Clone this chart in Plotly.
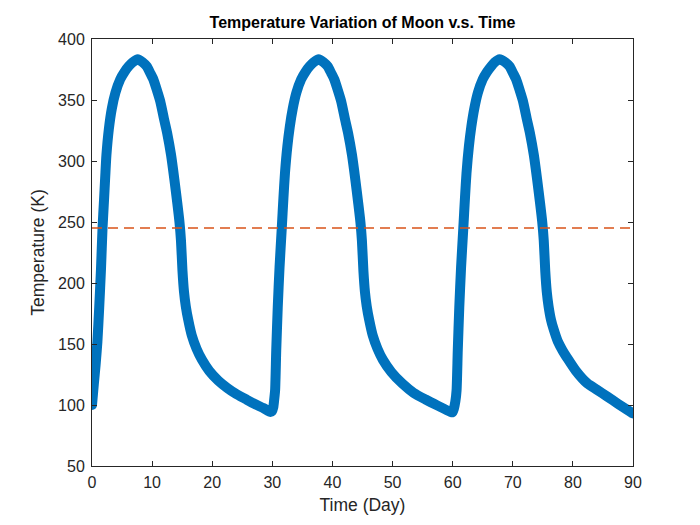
import plotly.graph_objects as go

# values, one list pair per lunar cycle
day_c1 = [0, 0.3, 0.6, 0.9, 1.2, 1.5, 1.75, 2.0, 2.2, 2.4,
          2.8, 3.3, 3.9, 4.7, 5.4, 6.1, 6.8, 7.6, 8.4, 9.1,
          9.7, 10.2, 10.8, 11.35, 12.0, 12.5, 13.15, 13.7, 14.2, 14.55,
          14.8, 15.05, 15.3, 15.6, 16.0, 16.6, 17.4, 18.3, 19.5, 21.0,
          22.5, 24.0, 25.5, 27.0, 28.5, 29.7]
temp_c1 = [100, 117, 133, 152, 180, 212, 245, 268, 287, 305,
           326, 343, 356, 367, 373, 377.6, 381, 383.5, 381, 377.6,
           372, 367, 358, 349, 334, 323, 305, 285, 265, 250,
           235, 210, 193, 181, 170, 157, 146, 137, 128, 120,
           114, 109, 105, 101, 97.5, 94.3]

day_c2 = [29.95, 30.15, 30.3, 30.46, 30.65, 30.9, 31.2, 31.57, 31.85, 32.1,
          32.5, 32.9, 33.4, 34.0, 34.8, 35.5, 36.2, 36.9, 37.7, 38.5,
          39.2, 39.8, 40.3, 40.9, 41.45, 42.1, 42.6, 43.25, 43.8, 44.3,
          44.65, 44.9, 45.15, 45.4, 45.7, 46.1, 46.7, 47.5, 48.4, 49.8,
          51.6, 53.5, 55.5, 57.5, 59.7]
temp_c2 = [95, 98, 104, 112, 145, 180, 213, 245, 270, 290,
           312, 328, 343, 356, 367, 373, 377.6, 381, 383.5, 381,
           377.6, 372, 367, 358, 349, 334, 323, 305, 285, 265,
           250, 235, 210, 193, 181, 170, 157, 146, 137, 127,
           117.7, 110, 104.5, 99.5, 94.3]

day_c3 = [59.95, 60.2, 60.45, 60.65, 60.85, 61.1, 61.4, 61.77, 62.05, 62.3,
          62.7, 63.1, 63.6, 64.2, 65.0, 65.7, 66.4, 67.0, 67.8, 68.75,
          69.45, 70.05, 70.55, 71.15, 71.7, 72.35, 72.85, 73.5, 74.05, 74.55,
          74.9, 75.15, 75.4, 75.65, 75.95, 76.35, 76.8, 77.5, 78.3, 79.0,
          80.5, 82.4, 84.0, 85.7, 87.5, 90.0]
temp_c3 = [94, 97, 103, 112, 145, 180, 213, 245, 270, 290,
           312, 328, 343, 356, 367, 373, 377.6, 381, 383.5, 381,
           377.6, 372, 367, 358, 349, 334, 323, 305, 285, 265,
           250, 235, 210, 193, 181, 170, 162, 152, 144.5, 139,
           128, 117.7, 112.5, 107, 101, 93]

mean_temp = 245
day_range = [0, 90]

days = day_c1 + day_c2 + day_c3
temps = temp_c1 + temp_c2 + temp_c3

fig = go.Figure()

fig.add_trace(go.Scatter(
    x=days, y=temps, mode="lines",
    line=dict(color="#0072BD", width=10, shape="spline", smoothing=0.6),
    showlegend=False, hoverinfo="x+y"))

# round ends, like matlab's fat line
fig.add_trace(go.Scatter(
    x=[days[0], days[-1]], y=[temps[0], temps[-1]], mode="markers",
    marker=dict(color="#0072BD", size=10, line=dict(width=0)),
    showlegend=False, hoverinfo="skip"))

fig.add_trace(go.Scatter(
    x=day_range, y=[mean_temp, mean_temp], mode="lines",
    line=dict(color="#D95319", width=1.5, dash="10px,6px"),
    showlegend=False))

tick_font = dict(family="Liberation Sans, Arial, sans-serif", size=16, color="#262626")
label_font = dict(family="Liberation Sans, Arial, sans-serif", size=17.5, color="#262626")

# page has an 8px body margin, so the margins are shifted by 8
fig.update_layout(
    width=700, height=525,
    paper_bgcolor="white", plot_bgcolor="white",
    margin=dict(l=84, r=75, t=31, b=67),
    font=tick_font,
    title=dict(text="<b>Temperature Variation of Moon v.s. Time</b>",
               xref="paper", x=0.5, xanchor="center",
               yref="container", y=1 - 14 / 525, yanchor="middle",
               font=dict(family="Liberation Sans, Arial, sans-serif", size=16, color="black")),
)

fig.update_xaxes(
    range=[0, 90], dtick=10, tick0=0,
    showgrid=False, zeroline=False,
    showline=True, linecolor="#262626", linewidth=1, mirror="ticks",
    ticks="inside", ticklen=5, tickcolor="#262626", ticklabelstandoff=2,
    title=dict(text="Time (Day)", standoff=8, font=label_font),
    tickfont=tick_font)

fig.update_yaxes(
    range=[50, 400], dtick=50, tick0=50,
    showgrid=False, zeroline=False,
    showline=True, linecolor="#262626", linewidth=1, mirror="ticks",
    ticks="inside", ticklen=5, tickcolor="#262626", ticklabelstandoff=3,
    title=dict(text="Temperature (K)", standoff=8, font=label_font),
    tickfont=tick_font)

fig.write_html("out.html")
